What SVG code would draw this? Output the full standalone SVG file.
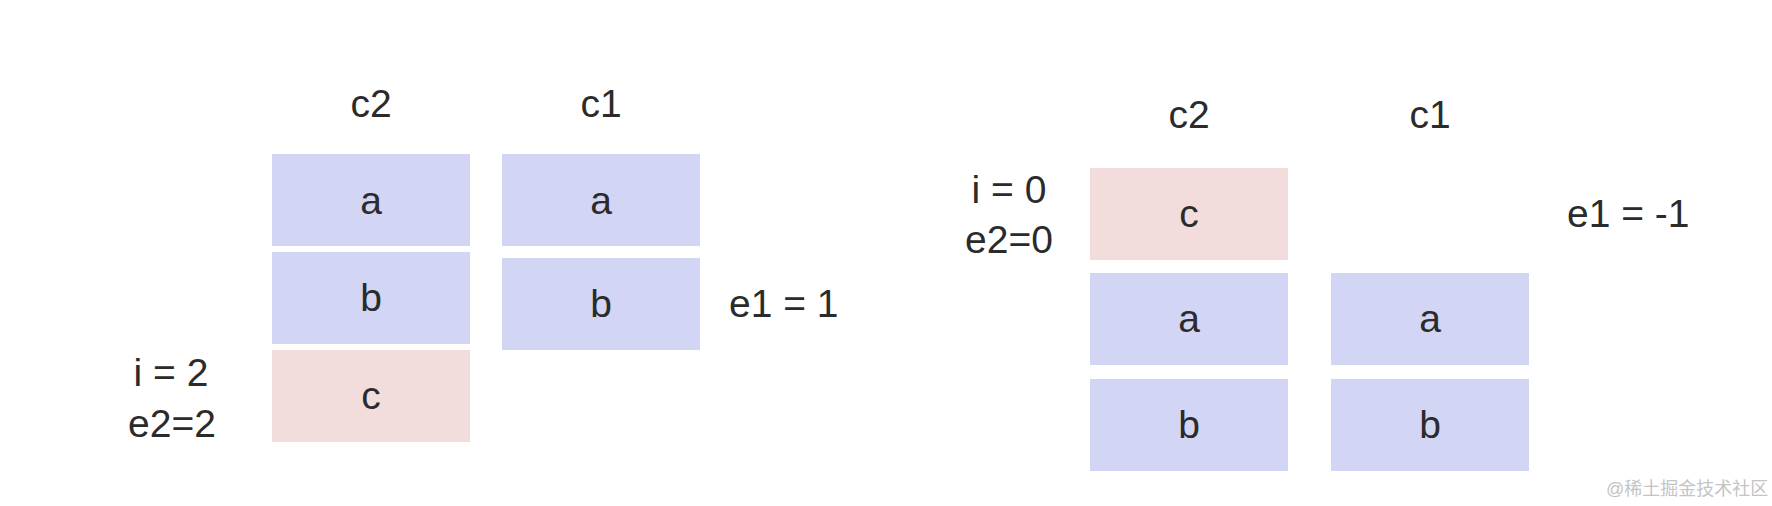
<svg xmlns="http://www.w3.org/2000/svg" width="1772" height="506" viewBox="0 0 1772 506">
<style>
text { font-family: "Liberation Sans", Arial, "Noto Sans CJK SC", sans-serif; fill: #2b2b2b; font-size: 39px; }
.mid { text-anchor: middle; }
.blue { fill: #D3D5F4; }
.pink { fill: #F3DDDC; }
.wm { font-size: 18px; fill: #c4c4c4; }
</style>
<rect x="0" y="0" width="1772" height="506" fill="#ffffff"/>
<g id="left">
  <text id="l-c2-label" class="mid" x="371" y="117">c2</text>
  <text id="l-c1-label" class="mid" x="601" y="117">c1</text>
  <g id="l-c2-a"><rect class="blue" x="272" y="154" width="198" height="92"/><text class="mid" x="371" y="214">a</text></g>
  <g id="l-c2-b"><rect class="blue" x="272" y="252" width="198" height="92"/><text class="mid" x="371" y="311">b</text></g>
  <g id="l-c2-c"><rect class="pink" x="272" y="350" width="198" height="92"/><text class="mid" x="371" y="409">c</text></g>
  <g id="l-c1-a"><rect class="blue" x="502" y="154" width="198" height="92"/><text class="mid" x="601" y="214">a</text></g>
  <g id="l-c1-b"><rect class="blue" x="502" y="258" width="198" height="92"/><text class="mid" x="601" y="317">b</text></g>
  <text id="l-e1" x="729" y="317">e1 = 1</text>
  <text id="l-i" class="mid" x="171" y="386">i = 2</text>
  <text id="l-e2" class="mid" x="172" y="437">e2=2</text>
</g>
<g id="right">
  <text id="r-c2-label" class="mid" x="1189" y="128">c2</text>
  <text id="r-c1-label" class="mid" x="1430" y="128">c1</text>
  <g id="r-c2-c"><rect class="pink" x="1090" y="168" width="198" height="92"/><text class="mid" x="1189" y="227">c</text></g>
  <g id="r-c2-a"><rect class="blue" x="1090" y="273" width="198" height="92"/><text class="mid" x="1189" y="332">a</text></g>
  <g id="r-c2-b"><rect class="blue" x="1090" y="379" width="198" height="92"/><text class="mid" x="1189" y="438">b</text></g>
  <g id="r-c1-a"><rect class="blue" x="1331" y="273" width="198" height="92"/><text class="mid" x="1430" y="332">a</text></g>
  <g id="r-c1-b"><rect class="blue" x="1331" y="379" width="198" height="92"/><text class="mid" x="1430" y="438">b</text></g>
  <text id="r-i" class="mid" x="1009" y="203">i = 0</text>
  <text id="r-e2" class="mid" x="1009" y="253">e2=0</text>
  <text id="r-e1" x="1567" y="227">e1 = -1</text>
</g>
<g id="connectors"></g>
<text class="wm" x="1606" y="495">@稀土掘金技术社区</text>
</svg>
